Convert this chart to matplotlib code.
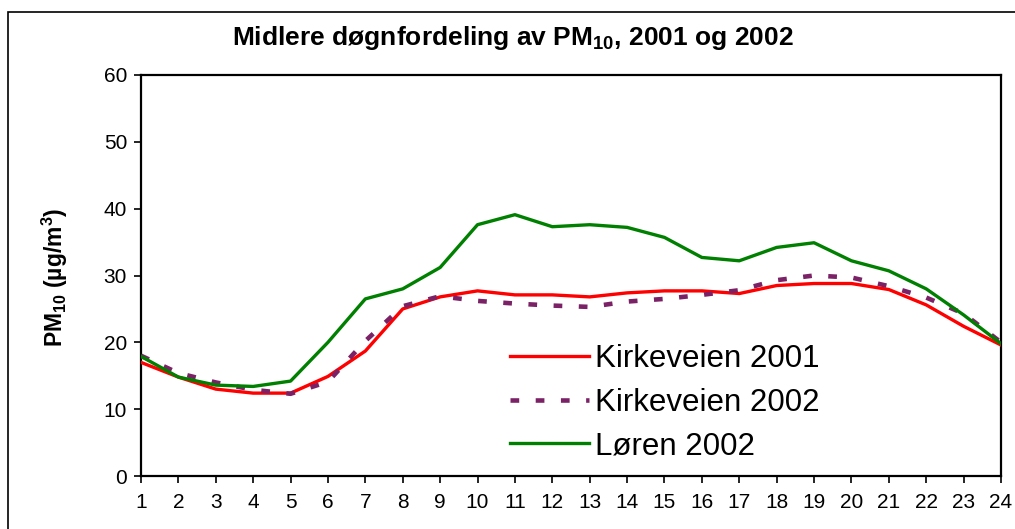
import matplotlib
matplotlib.use("Agg")
import matplotlib.pyplot as plt
from matplotlib.patches import Rectangle

hours = list(range(1, 25))
kirkeveien_2001 = [17.0, 14.8, 13.0, 12.4, 12.4, 14.9, 18.7, 25.0, 26.8, 27.7, 27.1, 27.1,
                   26.8, 27.4, 27.7, 27.7, 27.3, 28.5, 28.8, 28.8, 27.9, 25.6, 22.4, 19.6]
kirkeveien_2002 = [18.0, 15.4, 14.0, 12.9, 12.3, 14.1, 20.2, 25.4, 26.9, 26.2, 25.8, 25.5,
                   25.3, 26.1, 26.5, 27.1, 27.8, 29.3, 30.0, 29.7, 28.4, 26.7, 24.3, 20.0]
loren_2002 = [17.9, 14.8, 13.6, 13.4, 14.2, 20.0, 26.5, 28.0, 31.2, 37.6, 39.1, 37.3,
              37.6, 37.2, 35.7, 32.7, 32.2, 34.2, 34.9, 32.2, 30.7, 28.0, 24.1, 19.8]
labels = ["Kirkeveien 2001", "Kirkeveien 2002", "Løren 2002"]
yticks = [0, 10, 20, 30, 40, 50, 60]

plt.rcParams['font.family'] = ['Liberation Sans', 'DejaVu Sans']
plt.rcParams['mathtext.fontset'] = 'custom'
plt.rcParams['mathtext.rm'] = 'Liberation Sans'
plt.rcParams['mathtext.bf'] = 'Liberation Sans:bold'
plt.rcParams['mathtext.it'] = 'Liberation Sans:italic'

fig = plt.figure(figsize=(10.15, 5.29), dpi=100)
fig.patches.append(Rectangle((8/1015, -0.1), 1.2, 1 - 12/529 + 0.1, transform=fig.transFigure,
                             fill=False, edgecolor='black', linewidth=1.2))
ax = fig.add_axes([141/1015, 1 - 476/529, 860/1015, 401/529])

ax.plot(hours, kirkeveien_2001, color='#FF0000', linewidth=2.4, label=labels[0], zorder=3)
ax.plot(hours, kirkeveien_2002, color='#7B2266', linewidth=3.3, label=labels[1],
        dashes=(1.9, 3.6), dash_capstyle='butt', zorder=4)
ax.plot(hours, loren_2002, color='#008000', linewidth=2.4, label=labels[2], zorder=5)

ax.set_xlim(1, 24)
ax.set_ylim(0, 60)
ax.set_xticks(hours)
ax.set_yticks(yticks)
ax.tick_params(axis='both', direction='out', length=5, width=1.2, labelsize=15, color='black')
ax.tick_params(axis='x', pad=7)
ax.tick_params(axis='y', pad=5)
for s in ax.spines.values():
    s.set_linewidth(1.6)
    s.set_color('black')

fig.text(513/1015, 1 - 38/529, r"Midlere døgnfordeling av PM$_{\mathbf{10}}$, 2001 og 2002",
         fontsize=19, fontweight='bold', ha='center', va='center')
fig.text(55/1015, 1 - 277/529, r"PM$_{\mathbf{10}}$ (µg/m$^{\mathbf{3}}$)", fontsize=16.5,
         fontweight='bold', rotation=90, ha='center', va='center')

leg = ax.legend(loc='upper left', bbox_to_anchor=(0.415, 0.36), frameon=False, fontsize=22.5,
                handlelength=2.5, handletextpad=0.2, labelspacing=0.43, borderaxespad=0)

fig.savefig("out.png", dpi=100, facecolor='white')
